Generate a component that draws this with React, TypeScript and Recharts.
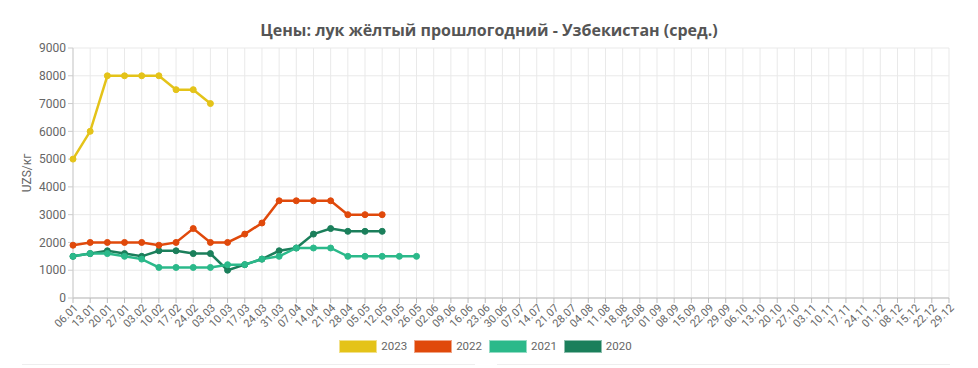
import { LineChart, Line, XAxis, YAxis, CartesianGrid, Legend } from "recharts";

const weeks = [
  "06.01", "13.01", "20.01", "27.01", "03.02", "10.02", "17.02", "24.02",
  "03.03", "10.03", "17.03", "24.03", "31.03", "07.04", "14.04", "21.04",
  "28.04", "05.05", "12.05", "19.05", "26.05", "02.06", "09.06", "16.06",
  "23.06", "30.06", "07.07", "14.07", "21.07", "28.07", "04.08", "11.08",
  "18.08", "25.08", "01.09", "08.09", "15.09", "22.09", "29.09", "06.10",
  "13.10", "20.10", "27.10", "03.11", "10.11", "17.11", "24.11", "01.12",
  "08.12", "15.12", "22.12", "29.12",
];

const prices2023 = [5000, 6000, 8000, 8000, 8000, 8000, 7500, 7500, 7000];
const prices2022 = [
  1900, 2000, 2000, 2000, 2000, 1900, 2000, 2500, 2000, 2000, 2300, 2700,
  3500, 3500, 3500, 3500, 3000, 3000, 3000,
];
const prices2021 = [
  1500, 1600, 1600, 1500, 1400, 1100, 1100, 1100, 1100, 1200, 1200, 1400,
  1500, 1800, 1800, 1800, 1500, 1500, 1500, 1500, 1500,
];
const prices2020 = [
  1500, 1600, 1700, 1600, 1500, 1700, 1700, 1600, 1600, 1000, 1200, 1400,
  1700, 1800, 2300, 2500, 2400, 2400, 2400,
];

const yTicks = [0, 1000, 2000, 3000, 4000, 5000, 6000, 7000, 8000, 9000];

const SERIES = [
  { key: "y2023", name: "2023", color: "#e4c319" },
  { key: "y2022", name: "2022", color: "#e0490b" },
  { key: "y2021", name: "2021", color: "#2bb98a" },
  { key: "y2020", name: "2020", color: "#1b7f5b" },
];

const data = weeks.map((w, i) => ({
  week: w,
  y2023: prices2023[i] ?? null,
  y2022: prices2022[i] ?? null,
  y2021: prices2021[i] ?? null,
  y2020: prices2020[i] ?? null,
}));

function LegendBoxes() {
  return (
    <div
      style={{
        height: 30,
        display: "flex",
        justifyContent: "center",
        gap: 7,
        paddingTop: 1,
        paddingLeft: 22,
        boxSizing: "border-box",
        fontFamily: "Roboto, sans-serif",
        fontSize: 11.5,
        color: "#666",
      }}
    >
      {SERIES.map((s) => (
        <div key={s.key} style={{ display: "flex", alignItems: "center", gap: 4, height: 14 }}>
          <div
            style={{
              width: 36,
              height: 11,
              backgroundColor: s.color,
              border: "1px solid rgba(255,255,255,0.5)",
            }}
          />
          <span>{s.name}</span>
        </div>
      ))}
    </div>
  );
}

export default function App() {
  // drawn bottom-up so 2023 ends on top
  const drawOrder = [...SERIES].reverse();
  return (
    <div style={{ position: "absolute", left: 0, top: 0, width: 978, height: 368, background: "#fff" }}>
      <div
        style={{
          position: "absolute",
          top: 19,
          left: 0,
          width: 978,
          textAlign: "center",
          fontFamily: "'Open Sans', sans-serif",
          fontWeight: 700,
          fontSize: 16,
          color: "#555",
        }}
      >
        Цены: лук жёлтый прошлогодний - Узбекистан (сред.)
      </div>
      <LineChart
        width={978}
        height={368}
        data={data}
        margin={{ top: 48, right: 29, left: 0, bottom: 0 }}
      >
        <CartesianGrid stroke="#e9e9e9" />
        <XAxis
          dataKey="week"
          scale="point"
          interval={0}
          height={40}
          tickSize={5}
          stroke="#bbb"
          tick={{ fill: "#666", fontSize: 11, fontFamily: "Roboto, sans-serif", angle: -45, textAnchor: "end", dy: -2 }}
        />
        <YAxis
          width={73}
          domain={[0, 9000]}
          ticks={yTicks}
          tickSize={5}
          stroke="#ccc"
          tick={{ fill: "#666", fontSize: 12, fontFamily: "Roboto, sans-serif" }}
          label={{
            value: "UZS/кг",
            angle: -90,
            position: "center",
            dx: -10,
            style: { fill: "#666", fontSize: 12, fontFamily: "Roboto, sans-serif" },
          }}
        />
        <Legend verticalAlign="bottom" height={30} content={() => <LegendBoxes />} />
        {drawOrder.map((s) => (
          <Line
            key={s.key}
            dataKey={s.key}
            name={s.name}
            stroke={s.color}
            strokeWidth={2.5}
            dot={{ r: 3, fill: s.color, stroke: s.color, strokeWidth: 1 }}
            isAnimationActive={false}
            connectNulls={false}
          />
        ))}
      </LineChart>
      <div style={{ position: "absolute", top: 364, left: 22, width: 453, height: 1, background: "#eee" }} />
      <div style={{ position: "absolute", top: 364, left: 497, width: 453, height: 1, background: "#eee" }} />
    </div>
  );
}
